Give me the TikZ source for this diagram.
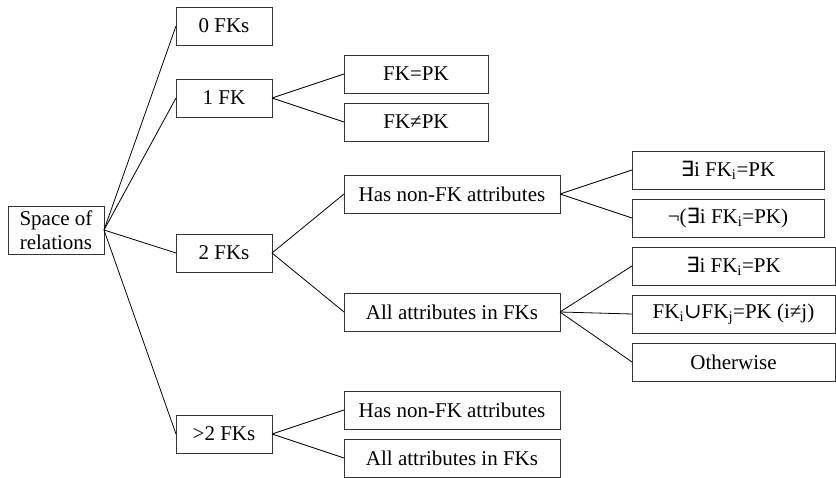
\documentclass[tikz,border=0pt]{standalone}
\usepackage{fontspec}
\setmainfont{Liberation Serif}
\newfontfamily\symsans{DejaVu Sans}
\newfontfamily\symserif{DejaVu Serif}
\newcommand{\ex}{{\symsans ∃}}
\newcommand{\cupsym}{{\symserif ∪}}
\newcommand{\bx}[6]{%
  \node[box, minimum width={#4-#2}, minimum height={#5-#3}] (#1) at ({(#2+#4)/2},{(#3+#5)/2}) {#6};}
\begin{document}
\begin{tikzpicture}[x=1pt,y=-1pt,
  box/.style={draw=black!80, line width=0.8pt, inner sep=0pt, outer sep=0pt, align=center,
    font=\fontsize{21}{24}\selectfont},
  link/.style={draw=black, line width=0.8pt}]
\useasboundingbox (0,0) rectangle (836,478);
\bx{root}{8}{206}{104}{254}{Space of\\relations}
\bx{c0}{176}{7}{272}{45}{0 FKs}
\bx{c1}{176}{79}{272}{117}{1 FK}
\bx{c2}{176}{234}{272}{272}{2 FKs}
\bx{c3}{176}{415}{272}{453}{>2 FKs}
\bx{fkeq}{344}{55}{488}{93}{FK=PK}
\bx{fkne}{344}{103}{488}{141}{FK≠PK}
\bx{hasA}{344}{175}{560}{213}{Has non-FK attributes}
\bx{allA}{344}{293}{560}{331}{All attributes in FKs}
\bx{hasB}{344}{391}{560}{429}{Has non-FK attributes}
\bx{allB}{344}{439}{560}{477}{All attributes in FKs}
\bx{exA}{632}{151}{824}{189}{\ex i FK\textsubscript{i}=PK}
\bx{nexA}{632}{199}{824}{237}{¬(\ex i FK\textsubscript{i}=PK)}
\bx{exB}{632}{247}{835}{285}{\ex i FK\textsubscript{i}=PK}
\bx{union}{632}{295}{835}{333}{FK\textsubscript{i}\cupsym FK\textsubscript{j}=PK (i≠j)}
\bx{other}{632}{343}{835}{381}{Otherwise}
\foreach \c in {c0,c1,c2,c3} \draw[link] (root.east) -- (\c.west);
\foreach \c in {fkeq,fkne} \draw[link] (c1.east) -- (\c.west);
\foreach \c in {hasA,allA} \draw[link] (c2.east) -- (\c.west);
\foreach \c in {hasB,allB} \draw[link] (c3.east) -- (\c.west);
\foreach \c in {exA,nexA} \draw[link] (hasA.east) -- (\c.west);
\foreach \c in {exB,union,other} \draw[link] (allA.east) -- (\c.west);
\end{tikzpicture}
\end{document}
